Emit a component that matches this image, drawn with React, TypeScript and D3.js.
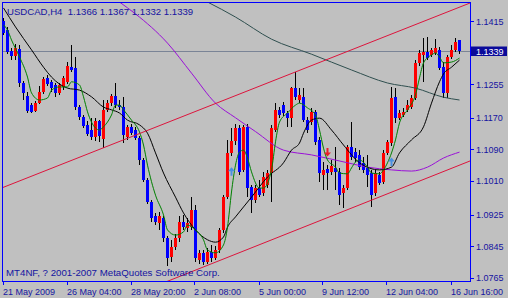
import React from "react";
import * as d3 from "d3";

const symbolTitle = "USDCAD,H4";
const titleValues = ["1.1366", "1.1367", "1.1332", "1.1339"];
const copyright = "MT4NF, ? 2001-2007 MetaQuotes Software Corp.";

const opens = [
  1.1415, 1.1392, 1.1339, 1.1326, 1.1344, 1.1258, 1.1225, 1.1202, 1.1187, 1.1207,
  1.1235, 1.1271, 1.1261, 1.1253, 1.1233, 1.1248, 1.1261, 1.1298, 1.1296, 1.1197,
  1.1172, 1.1152, 1.1139, 1.1121, 1.1162, 1.1116, 1.1190, 1.1207, 1.1225, 1.1202,
  1.1197, 1.1121, 1.1147, 1.1139, 1.1119, 1.1063, 1.1012, 1.0957, 1.0921, 1.0904,
  1.0916, 1.0866, 1.0818, 1.0843, 1.0866, 1.0906, 1.0891, 1.0893, 1.0937, 1.0810,
  1.0828, 1.0805, 1.0830, 1.0815, 1.0835, 1.0886, 1.0969, 1.1081, 1.1111, 1.1144,
  1.1038, 1.1147, 1.0995, 1.0962, 1.0992, 1.0979, 1.1000, 1.1030, 1.1139, 1.1190,
  1.1202, 1.1182, 1.1169, 1.1245, 1.1215, 1.1223, 1.1164, 1.1159, 1.1185, 1.1114,
  1.1025, 1.1040, 1.1033, 1.1043, 1.1033, 1.0979, 1.0992, 1.1096, 1.1083, 1.1076,
  1.1056, 1.1043, 1.1030, 1.0979, 1.1025, 1.1007, 1.1081, 1.1106, 1.1223, 1.1169,
  1.1177, 1.1190, 1.1197, 1.1220, 1.1309, 1.1329, 1.1337, 1.1329, 1.1334, 1.1342,
  1.1298, 1.1233, 1.1324, 1.1342, 1.1366,
];
const highs = [
  1.1423, 1.1400, 1.1347, 1.1357, 1.1354, 1.1263, 1.1235, 1.1207, 1.1212, 1.1250,
  1.1273, 1.1278, 1.1266, 1.1258, 1.1258, 1.1276, 1.1311, 1.1354, 1.1324, 1.1202,
  1.1177, 1.1162, 1.1169, 1.1169, 1.1164, 1.1215, 1.1215, 1.1230, 1.1258, 1.1215,
  1.1223, 1.1152, 1.1154, 1.1147, 1.1124, 1.1068, 1.1017, 1.0962, 1.0929, 1.0931,
  1.0921, 1.0871, 1.0861, 1.0876, 1.0921, 1.0924, 1.0916, 1.0969, 1.0949, 1.0835,
  1.0835, 1.0840, 1.0848, 1.0845, 1.0891, 1.0974, 1.1114, 1.1144, 1.1154, 1.1152,
  1.1152, 1.1154, 1.1000, 1.1000, 1.1012, 1.1033, 1.1038, 1.1152, 1.1207, 1.1197,
  1.1210, 1.1187, 1.1248, 1.1286, 1.1245, 1.1245, 1.1172, 1.1195, 1.1190, 1.1121,
  1.1058, 1.1050, 1.1063, 1.1096, 1.1043, 1.1000, 1.1101, 1.1159, 1.1093, 1.1088,
  1.1071, 1.1076, 1.1038, 1.1038, 1.1033, 1.1088, 1.1114, 1.1248, 1.1245, 1.1190,
  1.1195, 1.1215, 1.1228, 1.1316, 1.1342, 1.1372, 1.1374, 1.1347, 1.1369, 1.1349,
  1.1311, 1.1329, 1.1354, 1.1372, 1.1367,
];
const lows = [
  1.1380, 1.1332, 1.1316, 1.1316, 1.1248, 1.1215, 1.1182, 1.1182, 1.1185, 1.1205,
  1.1230, 1.1250, 1.1235, 1.1223, 1.1228, 1.1240, 1.1256, 1.1286, 1.1190, 1.1164,
  1.1144, 1.1124, 1.1114, 1.1111, 1.1109, 1.1093, 1.1185, 1.1200, 1.1195, 1.1190,
  1.1106, 1.1114, 1.1126, 1.1114, 1.1050, 1.1007, 1.0952, 1.0906, 1.0899, 1.0886,
  1.0855, 1.0795, 1.0805, 1.0835, 1.0855, 1.0886, 1.0881, 1.0886, 1.0805, 1.0800,
  1.0797, 1.0800, 1.0805, 1.0810, 1.0828, 1.0878, 1.0964, 1.1073, 1.1101, 1.1025,
  1.1033, 1.0969, 1.0929, 1.0954, 1.0969, 1.0972, 1.0992, 1.0957, 1.1134, 1.1169,
  1.1174, 1.1147, 1.1147, 1.1215, 1.1207, 1.1159, 1.1131, 1.1152, 1.1101, 1.1007,
  1.0987, 1.0987, 1.1025, 1.0987, 1.0949, 1.0941, 1.0987, 1.1063, 1.1058, 1.1038,
  1.1030, 1.0995, 1.0944, 1.0972, 1.1000, 1.1002, 1.1076, 1.1099, 1.1157, 1.1164,
  1.1172, 1.1185, 1.1192, 1.1215, 1.1301, 1.1261, 1.1316, 1.1324, 1.1329, 1.1291,
  1.1220, 1.1220, 1.1319, 1.1337, 1.1332,
];
const closes = [
  1.1385, 1.1337, 1.1326, 1.1347, 1.1258, 1.1233, 1.1187, 1.1185, 1.1207, 1.1235,
  1.1268, 1.1256, 1.1245, 1.1233, 1.1253, 1.1271, 1.1301, 1.1291, 1.1197, 1.1172,
  1.1149, 1.1129, 1.1121, 1.1162, 1.1124, 1.1190, 1.1207, 1.1225, 1.1202, 1.1197,
  1.1127, 1.1147, 1.1132, 1.1119, 1.1063, 1.1012, 1.0957, 1.0916, 1.0906, 1.0921,
  1.0866, 1.0815, 1.0843, 1.0866, 1.0906, 1.0893, 1.0904, 1.0937, 1.0815, 1.0828,
  1.0805, 1.0830, 1.0815, 1.0835, 1.0886, 1.0969, 1.1081, 1.1111, 1.1144, 1.1033,
  1.1147, 1.0992, 1.0962, 1.0992, 1.0974, 1.1020, 1.1030, 1.1144, 1.1190, 1.1177,
  1.1182, 1.1169, 1.1245, 1.1223, 1.1228, 1.1164, 1.1139, 1.1185, 1.1109, 1.1030,
  1.1038, 1.1030, 1.1048, 1.1033, 1.0974, 1.0992, 1.1096, 1.1071, 1.1068, 1.1045,
  1.1038, 1.1025, 1.0974, 1.1030, 1.1005, 1.1081, 1.1109, 1.1220, 1.1169, 1.1182,
  1.1185, 1.1202, 1.1220, 1.1309, 1.1334, 1.1337, 1.1321, 1.1342, 1.1347, 1.1296,
  1.1233, 1.1324, 1.1342, 1.1362, 1.1339,
];

// moving averages: [bar index, price]
const maFast: [number, number][] = [
  [0, 1.1405], [1, 1.1392], [2, 1.1367], [4, 1.1324], [6, 1.1273], [7, 1.1233], [9, 1.1215],
  [11, 1.122], [12, 1.124], [14, 1.1248], [16, 1.1248], [17, 1.1261], [19, 1.1253], [20, 1.1223],
  [21, 1.1185], [23, 1.1144], [24, 1.1139], [25, 1.1147], [27, 1.1177], [28, 1.1202], [29, 1.1202],
  [30, 1.119], [32, 1.1164], [34, 1.1134], [35, 1.1101], [36, 1.105], [38, 1.0974], [40, 1.0924],
  [41, 1.0886], [43, 1.0873], [45, 1.0881], [46, 1.0898], [48, 1.0886], [50, 1.0861], [51, 1.0835],
  [53, 1.0828], [55, 1.0848], [56, 1.0893], [57, 1.0982], [58, 1.105], [59, 1.1083], [60, 1.1088],
  [61, 1.1068], [62, 1.1033], [64, 1.0992], [65, 1.0992], [67, 1.1038], [68, 1.1109], [69, 1.1159],
  [71, 1.1182], [73, 1.1202], [74, 1.1207], [76, 1.1195], [78, 1.1177], [79, 1.1139], [80, 1.1093],
  [81, 1.1063], [83, 1.1045], [84, 1.103], [86, 1.1028], [87, 1.1043], [88, 1.1058], [89, 1.1063],
  [91, 1.1045], [92, 1.103], [94, 1.1028], [95, 1.1038], [96, 1.1056], [98, 1.1114], [99, 1.1157],
  [101, 1.119], [103, 1.1228], [104, 1.1271], [105, 1.1309], [107, 1.1329], [108, 1.1334],
  [109, 1.1324], [110, 1.1309], [112, 1.1311], [114, 1.1321],
];
const maMid: [number, number][] = [
  [0, 1.1448], [3, 1.14], [7, 1.1342], [10, 1.1298], [12, 1.1273], [16, 1.1245], [19, 1.124],
  [22, 1.1223], [25, 1.1197], [27, 1.119], [29, 1.1182], [31, 1.1164], [34, 1.1152], [36, 1.1131],
  [38, 1.1081], [40, 1.103], [43, 1.0969], [45, 1.0929], [48, 1.0886], [51, 1.0861], [53, 1.0855],
  [55, 1.0868], [56, 1.0893], [58, 1.0919], [62, 1.0969], [66, 1.102], [70, 1.1056], [72, 1.1088],
  [74, 1.1106], [75, 1.1131], [77, 1.1164], [79, 1.1169], [82, 1.1139], [85, 1.1101], [89, 1.1056],
  [94, 1.1038], [97, 1.1045], [99, 1.1081], [102, 1.1114], [105, 1.1147], [107, 1.1207],
  [109, 1.1261], [110, 1.1281], [112, 1.1298], [114, 1.1316],
];
const maSlow: [number, number][] = [
  [49, 1.1473], [51, 1.1463], [58, 1.1425], [67, 1.1369], [77, 1.1331], [87, 1.1291],
  [96, 1.1258], [103, 1.1245], [110, 1.1222], [114, 1.1215],
];
const maLong: [number, number][] = [
  [27, 1.1478], [29, 1.1463], [33, 1.1433], [41, 1.1359], [47, 1.1283], [53, 1.1207], [58, 1.117],
  [63, 1.1135], [70, 1.1088], [77, 1.1076], [86, 1.1056], [91, 1.1045], [97, 1.1038], [102, 1.1035],
  [106, 1.1045], [110, 1.1068], [114, 1.1083],
];

const channelUpper: [number, number][] = [[0, 1.0994], [114, 1.145]];
const channelLower: [number, number][] = [[40, 1.0752], [114, 1.105]];

const upArrows: [number, number][] = [[57, 1.1033], [97, 1.1058]];
const downArrows: [number, number][] = [[81, 1.1083]];

const timeTickBars = [0, 16, 32, 48, 64, 80, 96, 112];
const timeTickLabels = [
  "21 May 2009", "26 May 04:00", "28 May 20:00", "2 Jun 08:00",
  "5 Jun 00:00", "9 Jun 12:00", "12 Jun 04:00", "16 Jun 16:00",
];
const priceTicks = [1.1415, 1.1255, 1.117, 1.109, 1.101, 1.0925, 1.0845, 1.0765];
const bidPrice = 1.1339;

const FONT = "'Liberation Sans', Arial, Helvetica, sans-serif";
const TEXT = "#1414A0";
const FRAME = "#0000FF";

export default function App() {
  const W = 508;
  const H = 298;
  const plot = { left: 2, top: 2, right: 470, bottom: 281 };
  const n = opens.length;
  const x = d3.scaleLinear().domain([0, n - 1]).range([3.5, 3.5 + 4 * (n - 1)]);
  const y = d3.scaleLinear().domain([1.0765, 1.1415]).range([277.7, 21]);
  const line = d3
    .line<[number, number]>()
    .x((d) => x(d[0]))
    .y((d) => y(d[1]))
    .curve(d3.curveMonotoneX);

  const ray = (pts: [number, number][]) => {
    const [a, b] = pts;
    const slope = (b[1] - a[1]) / (b[0] - a[0]);
    const b0 = x.invert(plot.left);
    const b1 = x.invert(plot.right);
    return { x1: x(b0), y1: y(a[1] + slope * (b0 - a[0])), x2: x(b1), y2: y(a[1] + slope * (b1 - a[0])) };
  };
  const up = ray(channelUpper);
  const lo = ray(channelLower);

  const arrowUpPath = (cx: number, cy: number) =>
    `M${cx},${cy - 4.5} L${cx + 3.5},${cy - 0.5} L${cx + 1},${cy - 0.5} L${cx + 1},${cy + 4} L${cx - 1},${cy + 4} L${cx - 1},${cy - 0.5} L${cx - 3.5},${cy - 0.5} Z`;
  const arrowDownPath = (cx: number, cy: number) =>
    `M${cx},${cy + 4.5} L${cx + 3.5},${cy + 0.5} L${cx + 1},${cy + 0.5} L${cx + 1},${cy - 4} L${cx - 1},${cy - 4} L${cx - 1},${cy + 0.5} L${cx - 3.5},${cy + 0.5} Z`;

  const bidY = Math.round(y(bidPrice)) + 0.5;

  return (
    <svg
      width={W}
      height={H}
      style={{ position: "fixed", left: 0, top: 0, display: "block" }}
      fontFamily={FONT}
    >
      <defs>
        <clipPath id="plotClip">
          <rect x={plot.left + 1} y={plot.top + 1} width={plot.right - plot.left - 1} height={plot.bottom - plot.top - 1} />
        </clipPath>
      </defs>
      <rect x={0} y={0} width={W} height={H} fill="#C0C0C0" />

      <g clipPath="url(#plotClip)">
        <line x1={plot.left} x2={plot.right} y1={bidY} y2={bidY} stroke="#7A8496" strokeWidth={1} />

        <g shapeRendering="crispEdges">
          {opens.map((o, i) => {
            const c = closes[i];
            const cx = x(i);
            const yh = Math.round(y(highs[i]));
            const yl = Math.round(y(lows[i]));
            const yo = Math.round(y(o));
            const yc = Math.round(y(c));
            const top = Math.min(yo, yc);
            const h = Math.max(1, Math.abs(yo - yc));
            const bull = c >= o;
            return (
              <g key={i}>
                <rect x={cx - 0.5} y={yh} width={1} height={Math.max(1, yl - yh)} fill="#000" />
                <rect x={cx - 1.5} y={top} width={3} height={h} fill={bull ? "#FF0000" : "#0000FF"} />
              </g>
            );
          })}
        </g>

        <path d={line(maLong) || ""} fill="none" stroke="#9A10D8" strokeWidth={1} />
        <path d={line(maSlow) || ""} fill="none" stroke="#2F4F4F" strokeWidth={1} />
        <path d={line(maMid) || ""} fill="none" stroke="#000000" strokeWidth={1} />
        <path d={line(maFast) || ""} fill="none" stroke="#008000" strokeWidth={1} />

        <line {...up} stroke="#DC143C" strokeWidth={1} />
        <line {...lo} stroke="#DC143C" strokeWidth={1} />

        {upArrows.map(([b, p], k) => (
          <path key={"u" + k} d={arrowUpPath(x(b), y(p))} fill="#4A90E2" />
        ))}
        {downArrows.map(([b, p], k) => (
          <path key={"d" + k} d={arrowDownPath(x(b), y(p))} fill="#E8202A" />
        ))}
      </g>

      {/* frame */}
      <g shapeRendering="crispEdges" stroke={FRAME} strokeWidth={1}>
        <line x1={plot.left + 0.5} x2={plot.left + 0.5} y1={plot.top} y2={plot.bottom + 1} />
        <line x1={plot.left} x2={plot.right + 1} y1={plot.top + 0.5} y2={plot.top + 0.5} />
        <line x1={plot.right + 0.5} x2={plot.right + 0.5} y1={plot.top} y2={plot.bottom + 1} />
        <line x1={plot.left} x2={plot.right + 1} y1={plot.bottom + 0.5} y2={plot.bottom + 0.5} />
        {priceTicks.map((p) => {
          const ty = Math.round(y(p)) + 0.5;
          return <line key={p} x1={plot.right + 0.5} x2={plot.right + 4} y1={ty} y2={ty} />;
        })}
        {timeTickBars.map((b) => {
          const tx = Math.round(x(b)) - 0.5;
          return <line key={b} x1={tx} x2={tx} y1={plot.bottom + 0.5} y2={plot.bottom + 4} />;
        })}
      </g>

      {/* price labels */}
      {priceTicks.map((p) => (
        <text key={p} x={476} y={y(p) + 3.5} fontSize={9} fill={TEXT}>
          {p.toFixed(4)}
        </text>
      ))}

      {/* bid label */}
      <rect x={plot.right + 1} y={bidY - 5} width={W - plot.right - 2} height={9.5} fill="#0A0A9A" />
      <text x={476} y={bidY + 3.5} fontSize={9} fill="#FFFFFF">
        {bidPrice.toFixed(4)}
      </text>

      {/* time labels */}
      {timeTickBars.map((b, k) => (
        <text key={b} x={Math.round(x(b)) - 1} y={294.5} fontSize={9} fill={TEXT}>
          {timeTickLabels[k]}
        </text>
      ))}

      <text x={7} y={14.5} fontSize={9.6} fill={TEXT} style={{ whiteSpace: "pre" }}>
        {`${symbolTitle}  ${titleValues.join(" ")}`}
      </text>
      <text x={6} y={276} fontSize={9.7} fill={TEXT}>
        {copyright}
      </text>
    </svg>
  );
}
